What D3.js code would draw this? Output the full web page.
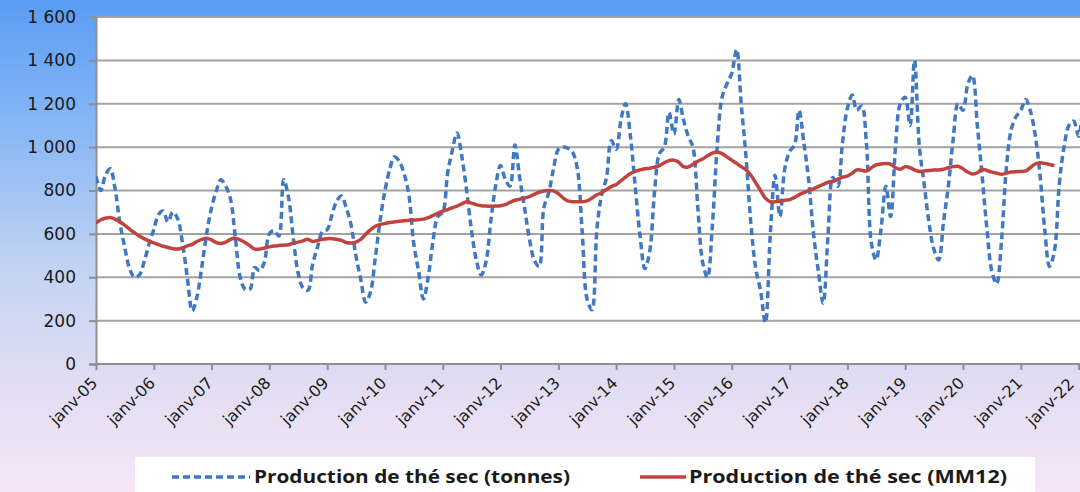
<!DOCTYPE html>
<html><head><meta charset="utf-8">
<script src="https://cdn.jsdelivr.net/npm/d3@7"></script>
<style>html,body{margin:0;padding:0;overflow:hidden;}svg{display:block;}</style>
</head><body>
<svg id="chart" width="1080" height="492"></svg>
<script>
// Monthly data from janv-05
const startYear = 2005;
const tonnes = [
 865,800,870,900,810,650,540,440,400,410,470,550,
 620,690,705,655,700,670,560,400,245,310,450,600,
 720,800,850,820,760,580,400,345,345,445,430,470,
 600,615,590,850,770,580,420,350,340,460,540,610,
 620,690,750,775,720,640,500,390,285,330,490,660,
 800,900,955,935,880,780,560,430,300,400,570,680,
 700,880,980,1065,960,800,620,480,410,470,660,820,
 915,850,820,1010,860,720,580,480,450,720,790,900,
 990,1000,995,975,900,600,300,250,620,780,860,1030,
 990,1130,1200,1050,820,590,440,520,800,970,1000,1160,
 1060,1220,1130,1050,1000,720,470,400,640,1000,1230,1290,
 1340,1450,1200,950,650,440,340,190,600,870,680,900,
 980,1010,1170,1020,850,600,430,280,600,860,820,1020,
 1180,1240,1170,1190,1020,560,480,620,820,680,1000,1200,
 1230,1100,1400,1000,830,650,530,480,660,820,1040,1200,
 1170,1290,1330,1100,870,620,430,370,570,900,1080,1140,
 1170,1220,1170,1060,880,620,450,520,830,1000,1100,1120,
 1050,1240
];
const mm12 = [
 650,665,672,676,668,655,640,622,605,590,578,568,
 558,550,543,537,532,530,535,545,552,565,575,580,
 572,560,556,562,575,580,572,560,545,530,530,535,
 540,544,546,548,550,558,562,568,575,565,570,575,
 578,578,575,570,560,558,562,575,598,618,635,643,
 648,652,655,658,660,663,664,665,668,675,685,695,
 705,712,720,728,738,748,742,735,730,728,728,728,
 730,735,745,755,760,765,772,782,792,798,800,798,
 785,765,752,748,748,748,752,765,780,790,805,818,
 828,845,862,878,888,895,900,903,908,915,928,938,
 940,930,910,908,920,935,945,960,972,978,970,955,
 940,925,910,895,870,835,800,765,748,748,750,755,
 758,768,780,790,800,808,818,828,838,843,852,862,
 866,880,895,893,890,905,918,922,925,922,905,898,
 910,905,895,888,890,892,895,895,898,905,910,912,
 900,885,876,882,898,892,885,880,875,880,885,887,
 888,890,905,922,928,925,920,915
];
const yearLabels = ["janv-05","janv-06","janv-07","janv-08","janv-09","janv-10","janv-11","janv-12","janv-13","janv-14","janv-15","janv-16","janv-17","janv-18","janv-19","janv-20","janv-21","janv-22"];
const yTicks = [0,200,400,600,800,1000,1200,1400,1600];
const seriesNames = ["Production de thé sec (tonnes)","Production de thé sec (MM12)"];

(function(){
const svg = d3.select("#chart");
const W = 1080, H = 492;
const mLeft = 96, mRight = 1078.6, mTop = 17, mBottom = 364;

// background gradient
const defs = svg.append("defs");
const grad = defs.append("linearGradient").attr("id","bg").attr("x1",0).attr("y1",0).attr("x2",0).attr("y2",1);
[[0,"#5a9cf4"],[0.25,"#86b6f5"],[0.55,"#c3d3f2"],[0.8,"#e4def3"],[1,"#f5e6f6"]].forEach(([o,c])=>grad.append("stop").attr("offset",o).attr("stop-color",c));
svg.append("rect").attr("width",W).attr("height",H).attr("fill","url(#bg)");

const x = d3.scaleTime().domain([new Date(startYear,0,1), new Date(startYear+yearLabels.length-1,0,1)]).range([mLeft,mRight]);
const y = d3.scaleLinear().domain([0,1600]).range([mBottom,mTop]);

// plot area
svg.append("rect").attr("x",mLeft).attr("y",mTop).attr("width",W-mLeft).attr("height",mBottom-mTop).attr("fill","#ffffff");
defs.append("clipPath").attr("id","clip").append("rect").attr("x",mLeft).attr("y",0).attr("width",W-mLeft).attr("height",mBottom);

// gridlines
svg.append("g").selectAll("line").data(yTicks.filter(d=>d>0)).join("line")
  .attr("x1",mLeft).attr("x2",W).attr("y1",d=>y(d)).attr("y2",d=>y(d))
  .attr("stroke","#a3a3a3").attr("stroke-width",2);

// y axis
const fmt = d => d3.format(",")(d).replace(/,/g," ");
const yAxis = svg.append("g").attr("transform",`translate(${mLeft},0)`)
  .call(d3.axisLeft(y).tickValues(yTicks).tickSize(7).tickPadding(13).tickFormat(fmt));
yAxis.select(".domain").attr("stroke","#8f8f8f").attr("stroke-width",2);
yAxis.selectAll(".tick line").attr("stroke","#8f8f8f").attr("stroke-width",2);
yAxis.selectAll("text").attr("font-family","DejaVu Sans, Verdana, sans-serif").attr("font-size",17).attr("fill","#1a1a1a");

// x axis
const tickDates = yearLabels.map((_,i)=>new Date(startYear+i,0,1));
const xAxis = svg.append("g").attr("transform",`translate(0,${mBottom})`)
  .call(d3.axisBottom(x).tickValues(tickDates).tickSize(6).tickFormat((d,i)=>yearLabels[i]));
xAxis.select(".domain").attr("stroke","#8f8f8f").attr("stroke-width",2).attr("d",`M${mLeft},0H${W}`);
xAxis.selectAll(".tick line").attr("stroke","#8f8f8f").attr("stroke-width",2);
const nLab = yearLabels.length;
xAxis.selectAll("text")
  .attr("font-family","DejaVu Sans, Verdana, sans-serif").attr("font-size",16).attr("fill","#1a1a1a")
  .attr("text-anchor","end").attr("dy",0).attr("y",0)
  .attr("transform",(d,i)=> i===nLab-1 ? "translate(-4,21) rotate(-45)" : "translate(2,20) rotate(-45)");

// lines
const g = svg.append("g").attr("clip-path","url(#clip)");
const line = d3.line().x((d,i)=>x(new Date(startYear,i,1))).y(d=>y(d)).curve(d3.curveCatmullRom.alpha(0.5));
g.append("path").datum(tonnes).attr("d",line).attr("fill","none")
  .attr("stroke","#4079c2").attr("stroke-width",3.5).attr("stroke-dasharray","7,4");
g.append("path").datum(mm12).attr("d",line).attr("fill","none")
  .attr("stroke","#c0433f").attr("stroke-width",3.5).attr("stroke-linejoin","round");

// legend
const lg = svg.append("g");
lg.append("rect").attr("x",135).attr("y",457).attr("width",900).attr("height",40).attr("fill","#ffffff");
lg.append("line").attr("x1",172).attr("x2",250).attr("y1",477).attr("y2",477)
  .attr("stroke","#4079c2").attr("stroke-width",3.5).attr("stroke-dasharray","7,4");
lg.append("text").attr("x",254).attr("y",483).text(seriesNames[0])
  .attr("textLength",316).attr("lengthAdjust","spacingAndGlyphs")
  .attr("font-family","Open Sans, sans-serif").attr("font-weight","bold").attr("font-size",17).attr("fill","#1a1a1a");
lg.append("line").attr("x1",640).attr("x2",686).attr("y1",477).attr("y2",477)
  .attr("stroke","#c0433f").attr("stroke-width",3.5);
lg.append("text").attr("x",689).attr("y",483).text(seriesNames[1])
  .attr("textLength",318).attr("lengthAdjust","spacingAndGlyphs")
  .attr("font-family","Open Sans, sans-serif").attr("font-weight","bold").attr("font-size",17).attr("fill","#1a1a1a");
})();
</script>
</body></html>
